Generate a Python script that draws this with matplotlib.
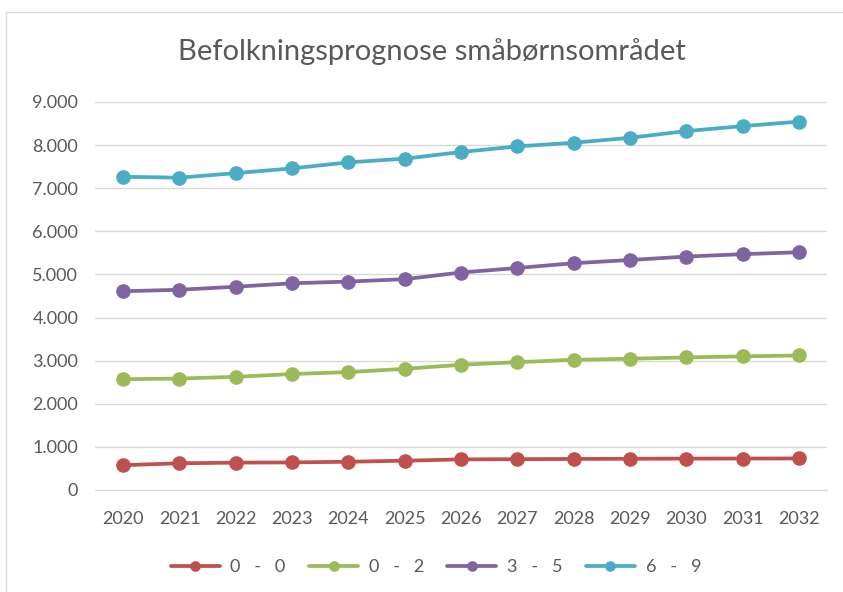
import matplotlib
matplotlib.use("Agg")
import matplotlib.pyplot as plt
from matplotlib.patches import Rectangle
from matplotlib.ticker import FuncFormatter

# data
years = [2020, 2021, 2022, 2023, 2024, 2025, 2026, 2027, 2028, 2029, 2030, 2031, 2032]
age_0_0 = [575, 620, 635, 640, 655, 680, 710, 715, 720, 725, 728, 730, 732]
age_0_2 = [2570, 2585, 2625, 2690, 2735, 2810, 2905, 2965, 3020, 3045, 3075, 3100, 3120]
age_3_5 = [4610, 4645, 4715, 4795, 4835, 4890, 5045, 5150, 5260, 5335, 5415, 5470, 5515]
age_6_9 = [7265, 7245, 7350, 7460, 7600, 7685, 7840, 7970, 8055, 8170, 8325, 8440, 8545]
series_labels = ["0   -   0", "0   -   2", "3   -   5", "6   -   9"]
colors = ["#C0504D", "#9BBB59", "#8064A2", "#4BACC6"]

plt.rcParams['font.family'] = ['Lato', 'DejaVu Sans']
text_col = "#595959"

fig = plt.figure(figsize=(8.43, 5.92), dpi=100)
fig.patches.append(Rectangle((6 / 843, -0.1), 1.1, 1 - 12 / 592 + 0.1,
                             transform=fig.transFigure, fill=False,
                             edgecolor="#D9D9D9", lw=1))
ax = fig.add_axes([95 / 843, 1 - 490 / 592, 732 / 843, 388 / 592])

x = list(range(len(years)))
for vals, lab, c in zip([age_0_0, age_0_2, age_3_5, age_6_9], series_labels, colors):
    ax.plot(x, vals, color=c, lw=2.7, marker="o", markersize=9.5, label=lab,
            solid_capstyle="round")

ax.set_xlim(-0.5, len(years) - 0.5)
ax.set_ylim(0, 9000)
ax.set_yticks(range(0, 9001, 1000))
ax.yaxis.set_major_formatter(FuncFormatter(lambda v, p: f"{int(v):,}".replace(",", ".")))
ax.set_xticks(x)
ax.set_xticklabels([str(y) for y in years])
ax.grid(axis="y", color="#D9D9D9", lw=1)
ax.set_axisbelow(True)
for s in ["top", "right", "left"]:
    ax.spines[s].set_visible(False)
ax.spines["bottom"].set_color("#D9D9D9")
ax.tick_params(length=0, colors=text_col, labelsize=13)
ax.tick_params(axis="x", pad=15)
ax.tick_params(axis="y", pad=12)

fig.text(432 / 843, 1 - 52 / 592, "Befolkningsprognose småbørnsområdet",
         ha="center", va="center", fontsize=21, color=text_col)

fig.legend(loc="center", bbox_to_anchor=(436 / 843, 1 - 567 / 592), ncol=4,
           frameon=False, fontsize=13, labelcolor=text_col, handlelength=2.7,
           columnspacing=1.3, handletextpad=0.6, markerscale=0.7)

fig.savefig("out.png", dpi=100)
